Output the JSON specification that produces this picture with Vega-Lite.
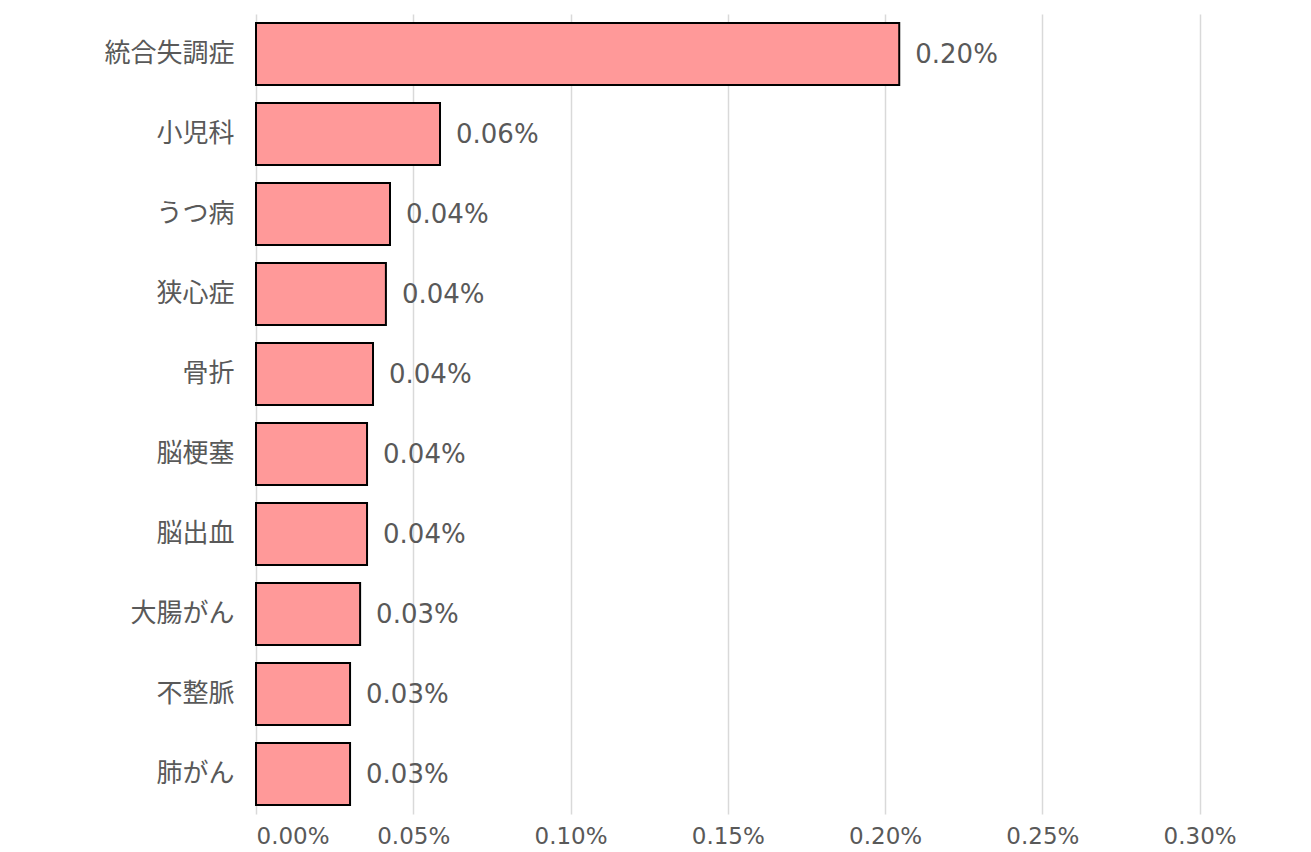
{
  "$schema": "https://vega.github.io/schema/vega-lite/v6.json",
  "autosize": {"type": "none"},
  "width": 1038,
  "height": 800,
  "padding": {"left": 256, "top": 14, "right": 17, "bottom": 38},
  "background": "white",
  "config": {"view": {"stroke": null}},
  "data": {
    "values": [
      {"disease": "統合失調症", "rate": 0.002045},
      {"disease": "小児科", "rate": 0.000585},
      {"disease": "うつ病", "rate": 0.000426},
      {"disease": "狭心症", "rate": 0.000413},
      {"disease": "骨折", "rate": 0.000372},
      {"disease": "脳梗塞", "rate": 0.000353},
      {"disease": "脳出血", "rate": 0.000353},
      {"disease": "大腸がん", "rate": 0.000331},
      {"disease": "不整脈", "rate": 0.000299},
      {"disease": "肺がん", "rate": 0.000299}
    ]
  },
  "encoding": {
    "y": {
      "field": "disease",
      "type": "nominal",
      "sort": null,
      "title": null,
      "scale": {"paddingInner": 0.225, "paddingOuter": 0.1125},
      "axis": {
        "ticks": false,
        "domain": false,
        "labelPadding": 22,
        "labelFont": "Noto Sans CJK JP",
        "labelFontSize": 26,
        "labelColor": "#595959",
        "labelLimit": 300
      }
    },
    "x": {
      "field": "rate",
      "type": "quantitative",
      "title": null,
      "scale": {"domain": [0, 0.0033], "nice": false},
      "axis": {
        "values": [0, 0.0005, 0.001, 0.0015, 0.002, 0.0025, 0.003],
        "format": ".2%",
        "ticks": false,
        "domain": false,
        "grid": true,
        "gridColor": "#d9d9d9",
        "gridWidth": 1.5,
        "labelPadding": 11,
        "labelFont": "DejaVu Sans",
        "labelFontSize": 23,
        "labelColor": "#595959"
      }
    }
  },
  "layer": [
    {
      "mark": {"type": "bar", "fill": "#ff9999", "stroke": "black", "strokeWidth": 2}
    },
    {
      "mark": {"type": "text", "align": "left", "baseline": "middle", "dx": 16, "dy": 1, "font": "DejaVu Sans", "fontSize": 26, "color": "#595959"},
      "encoding": {
        "text": {"field": "rate", "type": "quantitative", "format": ".2%"}
      }
    }
  ]
}
